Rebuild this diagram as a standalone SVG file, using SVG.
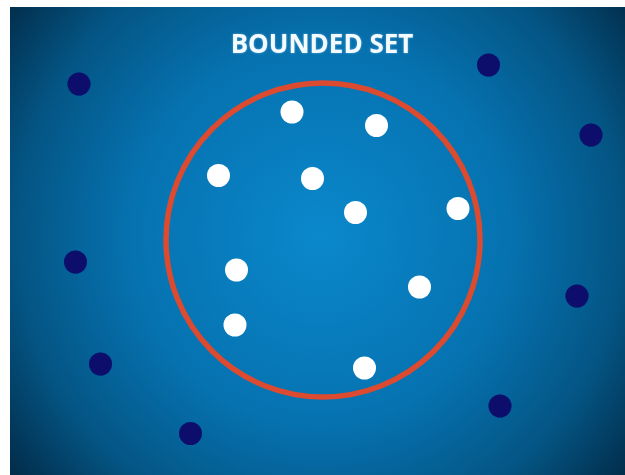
<svg xmlns="http://www.w3.org/2000/svg" width="625" height="475" viewBox="0 0 625 475">
  <defs>
    <radialGradient id="bg" cx="320" cy="235" r="420" gradientUnits="userSpaceOnUse">
      <stop offset="0" stop-color="#0a88cc"/>
      <stop offset="0.45" stop-color="#0672b0"/>
      <stop offset="0.72" stop-color="#045584"/>
      <stop offset="1" stop-color="#011e36"/>
    </radialGradient>
    <filter id="soft" x="-50%" y="-50%" width="200%" height="200%">
      <feGaussianBlur stdDeviation="0.6"/>
    </filter>
    <filter id="glow" x="-10%" y="-50%" width="120%" height="200%">
      <feGaussianBlur in="SourceAlpha" stdDeviation="1.2" result="b"/>
      <feFlood flood-color="#bfe8ff" flood-opacity="0.45"/>
      <feComposite in2="b" operator="in" result="g"/>
      <feMerge><feMergeNode in="g"/><feMergeNode in="SourceGraphic"/></feMerge>
    </filter>
    <style>
      .in { fill: #ffffff; filter: url(#soft); }
      .out { fill: #0b0c6c; filter: url(#soft); }
      .title { font-family: "Open Sans", "Liberation Sans", sans-serif; font-weight: bold; font-size: 26px; fill: #f4fbff; text-anchor: middle; }
    </style>
  </defs>
  <rect x="0" y="0" width="625" height="475" fill="#ffffff"/>
  <rect x="10" y="7" width="615" height="468" fill="url(#bg)"/>
  <text class="title" x="322" y="53" filter="url(#glow)">BOUNDED SET</text>
  <circle cx="323" cy="240" r="157" fill="none" stroke="#dc4a30" stroke-width="5.5"/>
  <g id="inside">
    <circle class="in" cx="292" cy="112" r="11.5"/>
    <circle class="in" cx="376.5" cy="125.5" r="11.5"/>
    <circle class="in" cx="218.5" cy="175.5" r="11.5"/>
    <circle class="in" cx="312.5" cy="178.5" r="11.5"/>
    <circle class="in" cx="355.5" cy="212.5" r="11.5"/>
    <circle class="in" cx="458" cy="208.5" r="11.5"/>
    <circle class="in" cx="236.5" cy="270" r="11.5"/>
    <circle class="in" cx="419.5" cy="287" r="11.5"/>
    <circle class="in" cx="235" cy="325" r="11.5"/>
    <circle class="in" cx="364.5" cy="368" r="11.5"/>
  </g>
  <g id="outside">
    <circle class="out" cx="79" cy="84" r="11.5"/>
    <circle class="out" cx="488.5" cy="65" r="11.5"/>
    <circle class="out" cx="591" cy="135" r="11.5"/>
    <circle class="out" cx="75.5" cy="262" r="11.5"/>
    <circle class="out" cx="577" cy="296" r="11.5"/>
    <circle class="out" cx="100.5" cy="364" r="11.5"/>
    <circle class="out" cx="500" cy="406" r="11.5"/>
    <circle class="out" cx="190.5" cy="433.5" r="11.5"/>
  </g>
</svg>
